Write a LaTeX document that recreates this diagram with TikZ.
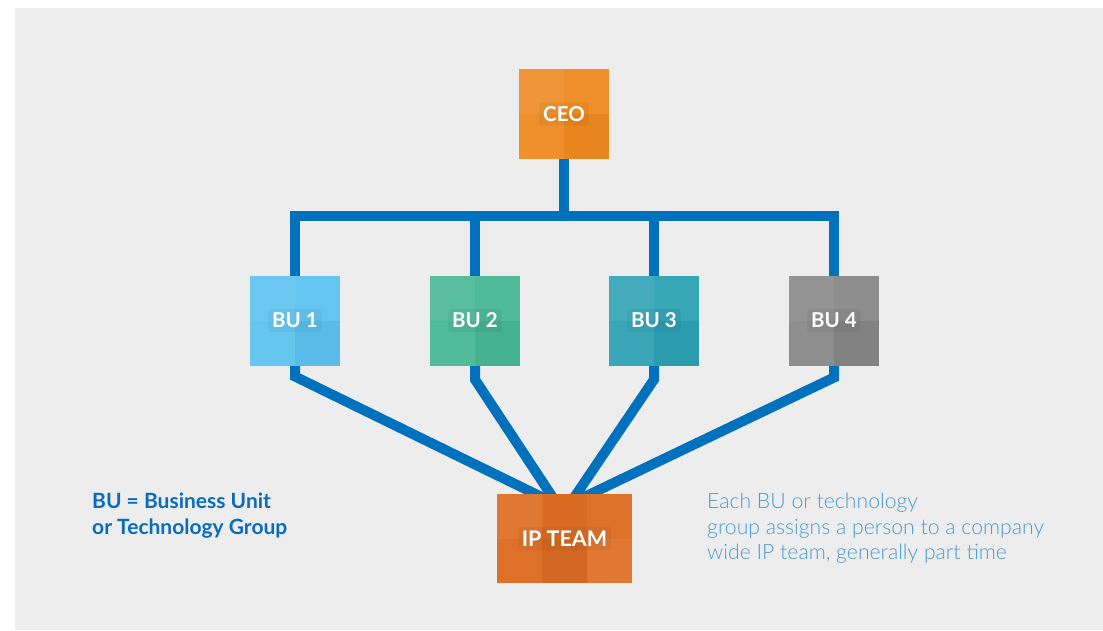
\documentclass[tikz,border=0pt]{standalone}
\usepackage{fontspec}
\setmainfont{Lato}
\newfontfamily\latolight{Lato Light}
\usetikzlibrary{calc}

\definecolor{panel}{HTML}{EDEDED}
\definecolor{wireblue}{HTML}{0071BC}
\definecolor{ceoorange}{HTML}{EF8A20}
\definecolor{buone}{HTML}{5CC3F0}
\definecolor{butwo}{HTML}{47B794}
\definecolor{buthree}{HTML}{2DA2B4}
\definecolor{bufour}{HTML}{878787}
\definecolor{iporange}{HTML}{DE6E24}
\definecolor{legendblue}{HTML}{0A6DBA}
\definecolor{noteblue}{HTML}{4B9AD5}

\tikzset{
  wire/.style={draw=wireblue, line width=10pt, line join=miter},
  feed/.style={wire, shorten >=-14pt},
  tile/.style={minimum width=90pt, minimum height=90pt, inner sep=0pt, outer sep=0pt},
  tilelabel/.style={text=white, font=\bfseries\fontsize{20.5}{22}\selectfont},
  glow/.style={fill=black, fill opacity=0.045, rounded corners=3pt, inner sep=4pt},
}

% a square tile with a faint 2x2 shading pattern and a white bold label
\newcommand{\shadedtile}[4]{% name, center, colour, text
  \node[tile, fill=#3] (#1) at (#2) {};
  \fill[white, opacity=0.06] (#1.north west) rectangle (#1.south);
  \fill[white, opacity=0.05] (#1.north west) rectangle (#1.east);
  \fill[black, opacity=0.03] (#1.center) rectangle (#1.south east);
  \node[glow, tilelabel, text opacity=0] at (#1.center) {#4};
  \node[tilelabel] at (#1.center) {#4};
}

\begin{document}
\begin{tikzpicture}[x=1pt, y=-1pt]
  \useasboundingbox (0,0) rectangle (1103,630);
  \fill[white] (0,0) rectangle (1103,630);
  \fill[panel] (15,8) rectangle (1103,630);

  % tile anchors (only positions, boxes drawn later on top of the wires)
  \node[tile] (ceo) at (564,114) {};
  \node[tile] (bu1) at (295,320.5) {};
  \node[tile] (bu2) at (475,320.5) {};
  \node[tile] (bu3) at (654,320.5) {};
  \node[tile] (bu4) at (834,320.5) {};
  \node[minimum width=135pt, minimum height=89pt, inner sep=0pt, outer sep=0pt] (ip) at (564.5,538.5) {};
  \coordinate (bar) at (0,216);

  % reporting lines from the CEO down to the business units
  \draw[wire] (bu1.north) -- (bu1.north |- bar) -- (bu4.north |- bar) -- (bu4.north);
  \draw[wire] (ceo.south) -- (ceo.south |- bar);
  \draw[wire] (bu2.north) -- (bu2.north |- bar);
  \draw[wire] (bu3.north) -- (bu3.north |- bar);

  % each unit feeds the shared IP team
  \draw[feed] (bu1.south) -- ++(0,11) -- ([xshift=-29pt]ip.north);
  \draw[feed] (bu2.south) -- ++(0,14) -- ([xshift=-14pt]ip.north);
  \draw[feed] (bu3.south) -- ++(0,14) -- ([xshift=12pt]ip.north);
  \draw[feed] (bu4.south) -- ++(0,12) -- ([xshift=26pt]ip.north);

  % tiles
  \shadedtile{ceo}{564,114}{ceoorange}{CEO}
  \shadedtile{bu1}{295,320.5}{buone}{BU 1}
  \shadedtile{bu2}{475,320.5}{butwo}{BU 2}
  \shadedtile{bu3}{654,320.5}{buthree}{BU 3}
  \shadedtile{bu4}{834,320.5}{bufour}{BU 4}

  % IP team tile with a 3x2 shading pattern
  \fill[iporange] (ip.north west) rectangle (ip.south east);
  \fill[white, opacity=0.07] (ip.north west) rectangle ($(ip.west)+(45,0)$);
  \fill[black, opacity=0.02] ($(ip.north west)+(45,0)$) rectangle ($(ip.center)+(22.5,0)$);
  \fill[white, opacity=0.03] ($(ip.north west)+(90,0)$) rectangle (ip.east);
  \fill[white, opacity=0.02] (ip.west) rectangle ($(ip.south west)+(45,0)$);
  \fill[black, opacity=0.05] ($(ip.south west)+(45,0)$) rectangle ($(ip.south west)+(90,-44.5)$);
  \fill[white, opacity=0.07] ($(ip.south west)+(90,0)$) rectangle ($(ip.east)$);
  \node[glow, text=white, text opacity=0, font=\bfseries\fontsize{21.5}{23}\selectfont] at (ip.center) {IP TEAM};
  \node[text=white, font=\bfseries\fontsize{21.5}{23}\selectfont] (iplabel) at (ip.center) {IP TEAM};

  % legend and note
  \node[anchor=north west, inner sep=0pt, align=left, text=legendblue,
        font=\bfseries\fontsize{21}{26}\selectfont] (legend) at (92,493)
        {BU = Business Unit\\or Technology Group};
  \node[anchor=north west, inner sep=0pt, align=left, text=noteblue,
        font=\latolight\fontsize{21.2}{25.5}\selectfont] (note) at (707,493)
        {Each BU or technology\\group assigns a person to a company\\wide IP team, generally part time};
\end{tikzpicture}
\end{document}
